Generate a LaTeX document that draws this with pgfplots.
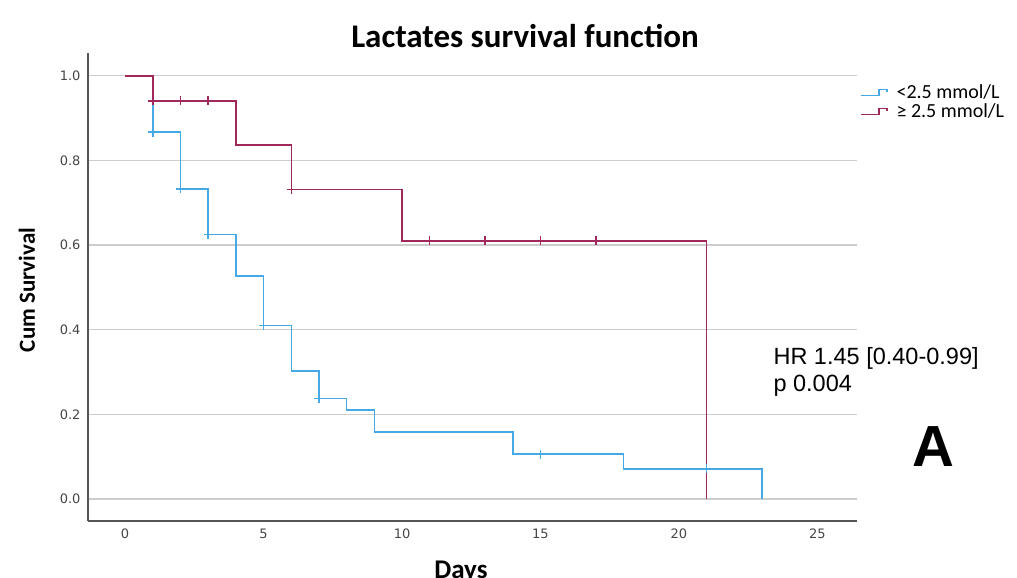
\documentclass[border=0pt]{standalone}
\usepackage{pgfplots}
\pgfplotsset{compat=1.18}
\usepackage{fontspec}
\setmainfont{Carlito}
\newfontfamily\tickfont{DejaVu Sans}
\newfontfamily\arialfont{Liberation Sans}
\definecolor{kmblue}{RGB}{70,168,228}
\definecolor{kmpurple}{RGB}{160,40,90}
\definecolor{gridgray}{RGB}{205,205,205}
\definecolor{axisgray}{RGB}{85,85,85}
\definecolor{tickgray}{RGB}{70,70,70}
\begin{document}
\begin{tikzpicture}[x=1pt,y=1pt]
\useasboundingbox (0,0) rectangle (1017,578);
\clip (0,0) rectangle (1017,578);
\begin{axis}[
  at={(88pt,57pt)}, anchor=south west,
  scale only axis, width=769pt, height=468pt,
  xmin=-1.34, xmax=26.43, ymin=-0.052, ymax=1.054,
  axis x line*=bottom, axis y line*=left,
  axis line style={axisgray, line width=1.2pt},
  xtick={0,5,10,15,20,25}, ytick={0,0.2,0.4,0.6,0.8,1.0},
  ymajorgrids, grid style={gridgray, line width=1.3pt},
  major tick length=0pt,
  /pgf/number format/assume math mode=true,
  ticklabel style={font=\tickfont\fontsize{13}{15}\selectfont, text=tickgray},
  yticklabel style={/pgf/number format/.cd, fixed, fixed zerofill, precision=1, /tikz/.cd, xshift=-4pt},
  xticklabel style={yshift=-4pt},
  legend style={at={(1.004,0.935)}, anchor=north west, draw=none, fill=none,
    inner sep=0pt, outer sep=0pt, row sep=1pt,
    font=\fontsize{20}{20}\selectfont,
    nodes={inner sep=1pt, text height=14pt, text depth=2pt, anchor=west},
    /tikz/every odd column/.append style={column sep=8pt}},
  legend cell align=left,
  legend image code/.code={\draw[#1] (0pt,-3pt) -- (18pt,-3pt) -- (18pt,3pt) -- (26pt,3pt) -- (26pt,0pt);},
]
\addplot[const plot, kmblue, line width=1.5pt] coordinates {
 (0,1) (1,0.867) (2,0.733) (3,0.625) (4,0.527) (5,0.41) (6,0.303) (7,0.237)
 (8,0.21) (9,0.158) (14,0.106) (18,0.071) (23,0)
};
\addlegendentry{<2.5 mmol/L}
\addplot[const plot, kmpurple, line width=1.5pt] coordinates {
 (0,1) (1,0.941) (4,0.837) (6,0.731) (10,0.61) (21,0)
};
\addlegendentry{≥ 2.5 mmol/L}
\addplot[only marks, mark=+, mark size=4.5pt, kmblue, mark options={line width=1.5pt}, forget plot] coordinates {
 (1,0.867) (2,0.733) (3,0.625) (5,0.41) (7,0.237) (15,0.106) (21,0.071)
};
\addplot[only marks, mark=+, mark size=4.5pt, kmpurple, mark options={line width=1.5pt}, forget plot] coordinates {
 (1,0.941) (2,0.941) (3,0.941) (6,0.731) (11,0.61) (13,0.61) (15,0.61) (17,0.61)
};
\end{axis}
\node[font=\bfseries\fontsize{33}{33}\selectfont, anchor=base] at (525,530) {Lactates survival function};
\node[rotate=90, font=\bfseries\fontsize{23}{23}\selectfont] at (27,288) {Cum Survival};
\node[font=\bfseries\fontsize{27}{27}\selectfont, anchor=base] at (461,-1) {Days};
\node[font=\arialfont\fontsize{23.5}{23.5}\selectfont, anchor=base west] at (770,213) {HR 1.45 [0.40-0.99]};
\node[font=\arialfont\fontsize{23.5}{23.5}\selectfont, anchor=base west] at (770,186) {p 0.004};
\node[font=\arialfont\bfseries\fontsize{58}{58}\selectfont, anchor=base] at (933,111) {A};
\end{tikzpicture}
\end{document}
